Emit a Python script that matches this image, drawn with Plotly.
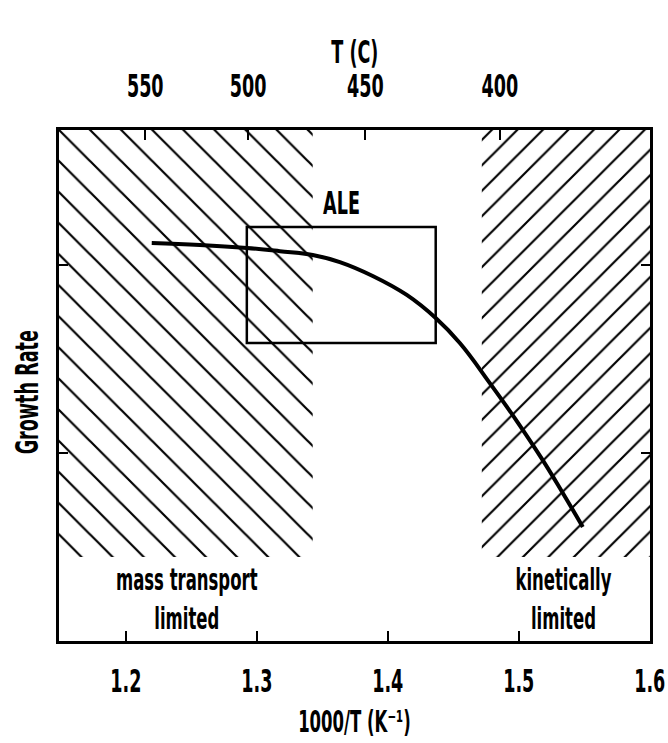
import plotly.graph_objects as go

# Growth-rate curve: 1000/T (K^-1) against relative growth rate
inv_t = [1.2198, 1.2565, 1.2924, 1.3176, 1.3427, 1.3634, 1.3885, 1.4145,
         1.4366, 1.4550, 1.4779, 1.4985, 1.5183, 1.5336, 1.5489]
growth = [2.118, 2.108, 2.092, 2.075, 2.055, 2.017, 1.943, 1.842,
          1.719, 1.586, 1.373, 1.171, 0.963, 0.788, 0.607]

# Bottom axis ticks (1000/T) and top axis ticks (temperature in C)
inv_t_ticks = [1.2, 1.3, 1.4, 1.5, 1.6]
temp_c_ticks = [550, 500, 450, 400]

# Regimes: mass-transport limited (high T) and kinetically limited (low T)
mass_transport_span = [1.149, 1.3427]
kinetic_span = [1.4718, 1.6002]
hatch_top = 2.72
hatch_bottom = 0.447

# ALE window
ale_x = [1.2924, 1.4366]
ale_y = [1.586, 2.204]

x_range = [1.149, 1.6002]
y_range = [0, 2.72]

FONT = "DejaVu Sans"
BIG = 32
MID = 30

fig = go.Figure()


def region(span, shape, size, solidity):
    return go.Scatter(
        x=[span[0], span[1], span[1], span[0], span[0]],
        y=[hatch_bottom, hatch_bottom, hatch_top, hatch_top, hatch_bottom],
        mode="lines", fill="toself", line=dict(width=0),
        fillcolor="white",
        fillpattern=dict(shape=shape, size=size, solidity=solidity,
                         fgcolor="black", bgcolor="white", fgopacity=1),
        hoverinfo="skip", showlegend=False,
    )


fig.add_trace(region(mass_transport_span, "\\", 22, 0.1))
fig.add_trace(region(kinetic_span, "/", 18, 0.12))

fig.add_trace(go.Scatter(
    x=inv_t, y=growth, mode="lines",
    line=dict(color="black", width=4, shape="spline", smoothing=1.2),
    showlegend=False,
))

# invisible trace to anchor the temperature axis
fig.add_trace(go.Scatter(x=[x_range[0]], y=[y_range[0]], xaxis="x2",
                         mode="markers", marker=dict(opacity=0),
                         hoverinfo="skip", showlegend=False))

fig.add_shape(type="rect", xref="x", yref="y",
              x0=ale_x[0], x1=ale_x[1], y0=ale_y[0], y1=ale_y[1],
              line=dict(color="black", width=2.5), layer="above")

bold = dict(color="black", family=FONT, weight="bold")

fig.add_annotation(x=(ale_x[0] + ale_x[1]) / 2, y=ale_y[1] + 0.127,
                   text="ALE", showarrow=False, font=dict(size=BIG, **bold))
fig.add_annotation(x=1.2466, y=0.2236, text="mass transport<br>limited",
                   showarrow=False, font=dict(size=MID, **bold))
fig.add_annotation(x=1.5344, y=0.2236, text="kinetically<br>limited",
                   showarrow=False, font=dict(size=MID, **bold))

# axis titles
fig.add_annotation(xref="paper", yref="paper", x=0.5, y=1.1526,
                   yanchor="middle", text="T (C)", showarrow=False,
                   font=dict(size=BIG, **bold))
fig.add_annotation(xref="paper", yref="paper", x=0.5, y=-0.1957,
                   yanchor="bottom", text="1000/T (K\u207b\u00b9)",
                   showarrow=False, font=dict(size=30, **bold))
fig.add_annotation(xref="paper", yref="paper", x=-0.054, y=0.487,
                   xanchor="center", yanchor="middle", textangle=-90,
                   text="Growth Rate", showarrow=False,
                   font=dict(size=BIG, **bold))

fig.update_layout(
    width=668, height=743,
    margin=dict(l=59, r=18, t=130, b=102, autoexpand=False),
    paper_bgcolor="white", plot_bgcolor="white",
    font=dict(family=FONT, size=BIG, color="black", weight="bold"),
    showlegend=False,
    xaxis=dict(
        range=x_range, tickvals=inv_t_ticks,
        ticktext=[f"{v:.1f}" for v in inv_t_ticks],
        ticks="inside", ticklen=10, tickwidth=2, tickcolor="black",
        showline=True, linewidth=3, linecolor="black", mirror=True,
        showgrid=False, zeroline=False, ticklabelstandoff=10,
        ticklabeloverflow="allow", automargin=False,
        tickfont=dict(size=BIG, **bold),
    ),
    xaxis2=dict(
        range=x_range, overlaying="x", side="top", anchor="y",
        tickvals=[1000 / (t + 273.15) for t in temp_c_ticks],
        ticktext=[str(t) for t in temp_c_ticks],
        ticks="inside", ticklen=10, tickwidth=2, tickcolor="black",
        showline=True, linewidth=3, linecolor="black",
        showgrid=False, zeroline=False, ticklabelstandoff=17,
        automargin=False,
        tickfont=dict(size=BIG, **bold),
    ),
    yaxis=dict(
        range=y_range, tickvals=[1, 2], showticklabels=False,
        ticks="inside", ticklen=9, tickwidth=2, tickcolor="black",
        showline=True, linewidth=3, linecolor="black", mirror="ticks",
        showgrid=False, zeroline=False, automargin=False,
    ),
)

# Condensed lettering: squeeze every label horizontally about its own centre
condense_js = """
var gd = document.getElementById('{plot_id}');
gd.querySelectorAll('svg text').forEach(function (t) {
    var bb = t.getBBox();
    if (!bb.width) { return; }
    var cx = bb.x + bb.width / 2;
    var tr = t.getAttribute('transform') || '';
    t.setAttribute('transform', tr + ' translate(' + cx + ',0) scale(0.55,1) translate(' + (-cx) + ',0)');
});
"""

fig.write_html("out.html", post_script=condense_js)
